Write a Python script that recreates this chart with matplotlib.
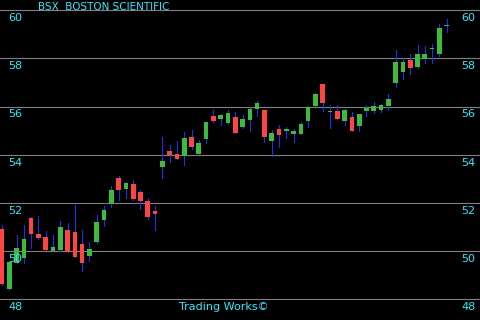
import matplotlib
matplotlib.use("Agg")
import matplotlib.pyplot as plt
import numpy as np

title = "BSX  BOSTON SCIENTIFIC"
footer = "Trading Works©"
y_ticks = [48, 50, 52, 54, 56, 58, 60]

opens = [50.91, 48.42, 49.50, 49.72, 51.37, 50.71, 50.58, 50.01, 50.05, 50.87,
         50.79, 50.29, 49.79, 50.37, 51.29, 51.96, 53.03, 52.57, 52.78, 52.45,
         52.07, 51.66, 53.49, 54.15, 54.02, 53.94, 54.73, 54.02, 54.65, 55.60,
         55.48, 55.31, 55.56, 55.15, 55.44, 55.89, 55.85, 54.56, 55.06, 54.98,
         54.85, 54.85, 55.39, 56.02, 56.93, 55.77, 55.81, 55.39, 55.56, 55.19,
         55.81, 55.81, 55.85, 56.02, 56.97, 57.43, 57.93, 57.63, 57.97, 58.40,
         58.17, 59.36]
highs = [51.08, 49.58, 50.66, 51.08, 51.41, 51.45, 50.83, 50.66, 51.24, 51.16,
         51.91, 50.87, 50.37, 51.49, 51.87, 52.70, 53.11, 52.86, 52.95, 52.53,
         52.20, 51.87, 54.73, 54.40, 54.56, 54.94, 55.02, 54.61, 55.35, 55.85,
         55.68, 55.85, 55.77, 55.64, 55.98, 56.22, 55.85, 55.02, 55.23, 55.15,
         55.06, 55.35, 56.02, 56.56, 56.93, 56.06, 56.06, 55.89, 55.77, 55.68,
         56.06, 56.18, 56.10, 56.51, 58.34, 58.01, 58.17, 58.55, 58.51, 58.59,
         59.42, 59.63]
lows = [48.59, 48.39, 49.48, 49.51, 50.14, 50.51, 50.05, 50.01, 50.00, 49.96,
        49.75, 49.18, 49.60, 50.32, 51.04, 51.84, 52.12, 52.20, 52.12, 51.74,
        51.33, 50.87, 53.03, 53.69, 53.82, 53.57, 54.23, 54.02, 54.48, 55.35,
        55.23, 55.27, 54.90, 55.10, 54.98, 55.60, 54.52, 53.94, 54.32, 54.69,
        54.52, 54.85, 55.15, 56.02, 55.81, 55.10, 55.48, 55.23, 54.98, 54.98,
        55.60, 55.73, 55.77, 55.85, 56.80, 57.14, 57.34, 57.59, 57.80, 57.80,
        58.09, 59.09]
closes = [48.63, 49.56, 50.12, 50.50, 50.72, 50.55, 50.05, 50.17, 51.00, 49.96,
          49.75, 49.51, 50.08, 51.20, 51.70, 52.53, 52.53, 52.82, 52.16, 52.07,
          51.41, 51.54, 53.73, 53.98, 53.82, 54.69, 54.32, 54.48, 55.35, 55.39,
          55.64, 55.73, 54.90, 55.48, 55.89, 56.14, 54.73, 54.90, 54.81, 55.06,
          54.98, 55.27, 55.98, 56.51, 56.14, 55.81, 55.48, 55.85, 54.98, 55.68,
          55.93, 56.02, 56.06, 56.31, 57.84, 57.84, 57.59, 58.17, 58.17, 58.40,
          59.25, 59.36]

o = np.array(opens); h = np.array(highs); l = np.array(lows); c = np.array(closes)
x = np.arange(len(o))

UP = "#3cbc3c"
DOWN = "#ff4444"
WICK = "#0a36ff"
TXT = "#33e8ff"
GRID = "#808080"

fig = plt.figure(figsize=(4.8, 3.2), dpi=100, facecolor="black")
ax = fig.add_axes([0, 0, 1, 1], facecolor="black")

for v in y_ticks:
    ax.axhline(v, color=GRID, lw=0.8, zorder=1)

ax.vlines(x, l, h, color=WICK, lw=0.68, zorder=2, antialiased=False)
bottoms = np.minimum(o, c)
heights = np.maximum(np.abs(c - o), 0.045)
colors = [UP if cc >= oo else DOWN for oo, cc in zip(o, c)]
ax.bar(x, heights, bottom=bottoms, width=0.64, color=colors, linewidth=0, zorder=3)

ax.set_xlim(-0.27, 65.57)
ax.set_ylim(47.13, 60.43)
ax.axis("off")

trans = ax.get_yaxis_transform()
for v in y_ticks:
    ax.text(8 / 480, v - 0.12, f"{v}", color=TXT, fontsize=8, va="top", ha="left",
            transform=trans, zorder=4)
    ax.text(461 / 480, v - 0.12, f"{v}", color=TXT, fontsize=8, va="top", ha="left",
            transform=trans, zorder=4)

fig.text(38 / 480, 1 - 1.5 / 320, title, color=TXT, fontsize=7.5, va="top", ha="left")
fig.text(224 / 480, 1 - 302 / 320, footer, color=TXT, fontsize=8, va="top", ha="center")

fig.savefig("out.png", dpi=100, facecolor="black")
